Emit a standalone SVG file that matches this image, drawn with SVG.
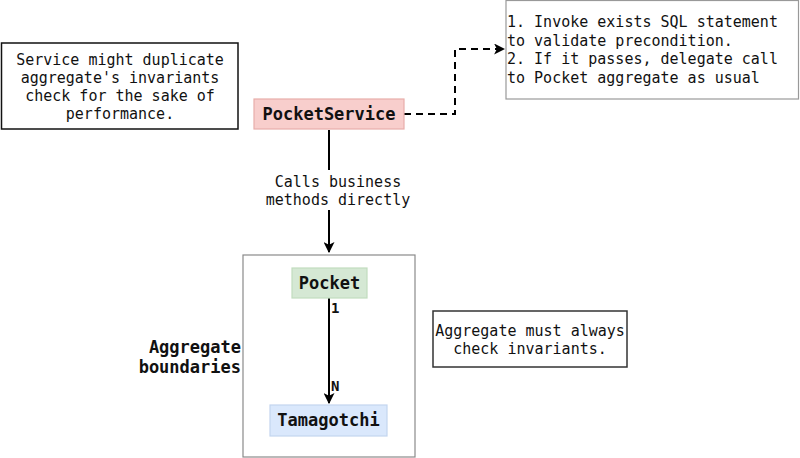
<svg xmlns="http://www.w3.org/2000/svg" width="800" height="458" viewBox="0 0 800 458">
<defs>
<style>
text{font-family:"DejaVu Sans Mono","Liberation Mono",monospace;fill:#111}
.n{font-size:15px}
.b{font-size:17px;font-weight:bold}
.s{font-size:14px;font-weight:bold}
.m{text-anchor:middle}
.e{text-anchor:end}
.ln{stroke:#000;stroke-width:2;fill:none}
</style>
<marker id="ah" viewBox="0 0 10 10" refX="9" refY="5" markerWidth="5.5" markerHeight="5.5" orient="auto" markerUnits="strokeWidth">
<path d="M0,0 L10,5 L0,10 L2.5,5 Z" fill="#000"/>
</marker>
</defs>
<rect width="800" height="458" fill="#fff"/>
<g id="edges">
<path class="ln" d="M329,130 V252" marker-end="url(#ah)"/>
<rect x="270" y="170" width="145" height="40" fill="#fff"/>
<text class="n m" x="338" y="187">Calls business</text>
<text class="n m" x="338" y="205">methods directly</text>
<path class="ln" d="M404,114 H455 V49 H504" stroke-dasharray="7 5" marker-end="url(#ah)"/>
<path class="ln" d="M329,298 V403" marker-end="url(#ah)"/>
<text class="s" x="331" y="313">1</text>
<text class="s" x="331" y="391">N</text>
</g>
<g id="aggregate">
<rect x="243" y="255" width="172" height="202" fill="none" stroke="#8a8a8a" stroke-width="1.2"/>
<text class="b e" x="241" y="353">Aggregate</text>
<text class="b e" x="241" y="373">boundaries</text>
</g>
<g id="note-service">
<rect x="1.5" y="43" width="236.5" height="86" fill="#fff" stroke="#111" stroke-width="1.5"/>
<text class="n m" x="120" y="65">Service might duplicate</text>
<text class="n m" x="120" y="83">aggregate's invariants</text>
<text class="n m" x="120" y="101">check for the sake of</text>
<text class="n m" x="120" y="119">performance.</text>
</g>
<g id="pocketservice">
<rect x="254" y="99" width="150" height="30" fill="#f8cecc" stroke="#e8aeaa" stroke-width="1.2"/>
<text class="b m" x="329" y="120">PocketService</text>
</g>
<g id="note-sql">
<rect x="506" y="0.5" width="292.5" height="98.5" fill="#fff" stroke="#999" stroke-width="1.2"/>
<text class="n" x="507" y="27">1. Invoke exists SQL statement</text>
<text class="n" x="507" y="45.5">to validate precondition.</text>
<text class="n" x="507" y="64">2. If it passes, delegate call</text>
<text class="n" x="507" y="82.5">to Pocket aggregate as usual</text>
</g>
<g id="pocket">
<rect x="292" y="268" width="75" height="30" fill="#d5e8d4" stroke="#c2dcbe" stroke-width="1.2"/>
<text class="b m" x="329.5" y="289">Pocket</text>
</g>
<g id="tamagotchi">
<rect x="270" y="405" width="117" height="31" fill="#dae8fc" stroke="#c3d5ef" stroke-width="1.2"/>
<text class="b m" x="328.5" y="426">Tamagotchi</text>
</g>
<g id="note-aggregate">
<rect x="433" y="311" width="194" height="56" fill="#fff" stroke="#333" stroke-width="1.5"/>
<text class="n m" x="530" y="336">Aggregate must always</text>
<text class="n m" x="530" y="354">check invariants.</text>
</g>
</svg>
